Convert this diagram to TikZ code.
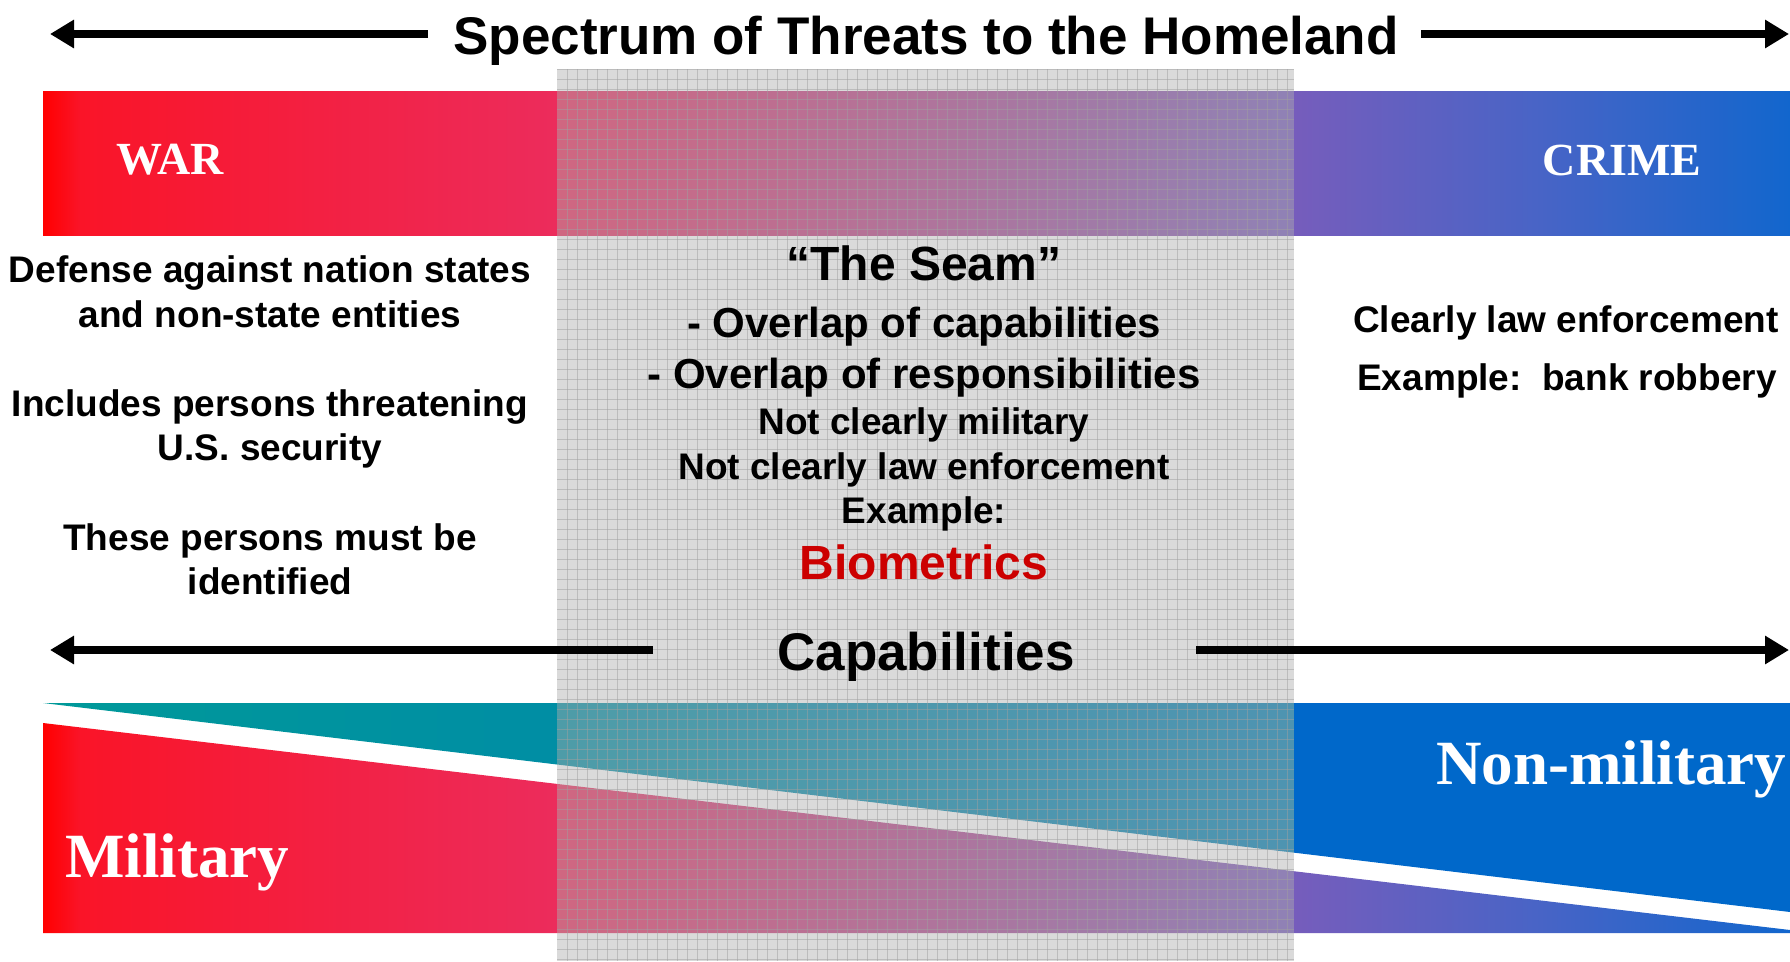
\documentclass[tikz,border=0pt]{standalone}
\usepackage{fontspec}
\setmainfont{Liberation Sans}
\newfontfamily\serifbf{Liberation Serif}
\usetikzlibrary{arrows.meta}
\definecolor{cR}{RGB}{255,0,0}
\definecolor{cR2}{RGB}{250,20,40}
\definecolor{cP}{RGB}{236,44,92}
\definecolor{cV}{RGB}{118,93,188}
\definecolor{cV2}{RGB}{72,100,198}
\definecolor{cB}{RGB}{18,102,205}
\definecolor{cT1}{RGB}{0,153,153}
\definecolor{cT2}{RGB}{0,126,180}
\definecolor{cNB}{RGB}{0,104,202}
\definecolor{seamgray}{RGB}{175,175,175}
\definecolor{gridgray}{RGB}{160,160,160}
\definecolor{bioRed}{RGB}{204,0,0}
\pgfdeclarehorizontalshading{spec}{100bp}{color(0bp)=(cR); color(25bp)=(cR); color(26.06bp)=(cR2); color(39.71bp)=(cP); color(60.8bp)=(cV); color(67.84bp)=(cV2); color(75bp)=(cB); color(100bp)=(cB)}
\tikzset{
  arr/.style={line width=8pt, draw=black, -{Triangle[length=24pt,width=27pt]}},
  base/.style={anchor=base, inner sep=0pt, outer sep=0pt},
  small/.style={base, font=\bfseries\fontsize{37}{44}\selectfont},
  mid/.style={base, font=\bfseries\fontsize{42}{50}\selectfont},
  large/.style={base, font=\bfseries\fontsize{48}{56}\selectfont},
  huge/.style={base, font=\bfseries\fontsize{53}{62}\selectfont},
  bartext/.style={anchor=center, inner sep=0pt, text=white, font=\serifbf\bfseries\fontsize{46}{50}\selectfont},
  lowtext/.style={anchor=base west, inner sep=0pt, text=white, font=\serifbf\bfseries\fontsize{63}{70}\selectfont},
  gridline/.style={draw=gridgray, line width=1pt, opacity=0.5}
}
\begin{document}
\begin{tikzpicture}[x=1pt,y=-1pt]
\useasboundingbox (0,0) rectangle (1790,961);
\fill[white] (0,0) rectangle (1790,961);
% top bar
\shade[shading=spec] (43,91) rectangle (1790,235);
% lower bottom shape (military -> non military gradient)
\shade[shading=spec] (43,723) -- (1790,930) -- (1790,933) -- (43,933) -- cycle;
% upper bottom shape
\begin{scope}
  \clip (43,703) -- (1790,703) -- (1790,912) -- cycle;
  \shade[left color=cT1, right color=cT2] (43,700) rectangle (1294,915);
  \fill[cNB] (1294,700) rectangle (1790,915);
\end{scope}
% the seam
\fill[seamgray, opacity=0.45] (557,69) rectangle (1294,961);
\begin{scope}
  \clip (557,69) rectangle (1294,961);
  \foreach \gx in {567,577,...,1294} \draw[gridline] (\gx,69) -- (\gx,961);
  \foreach \gy in {69,79,...,961} \draw[gridline] (557,\gy) -- (1294,\gy);
\end{scope}
% title and arrows
\node[huge] (title) at (926,54) {Spectrum of Threats to the Homeland};
\coordinate (tlA) at (428,34);
\coordinate (tlB) at (50,34);
\coordinate (trA) at (1421,34);
\coordinate (trB) at (1789,34);
\draw[arr] (tlA) -- (tlB);
\draw[arr] (trA) -- (trB);
% bar labels
\node[bartext] (war) at (170,160) {WAR};
\node[bartext] (crime) at (1622,160) {CRIME};
% left text
\node[small] (l1) at (270,282) {Defense against nation states};
\node[small] (l2) at (270,327) {and non-state entities};
\node[small] (l3) at (270,416) {Includes persons threatening};
\node[small] (l4) at (270,460) {U.S. security};
\node[small] (l5) at (270,550) {These persons must be};
\node[small] (l6) at (270,594) {identified};
% seam text
\node[large] (c1) at (924,280) {“The Seam”};
\node[mid] (c2) at (924,337) {- Overlap of capabilities};
\node[mid] (c3) at (924,388) {- Overlap of responsibilities};
\node[small] (c4) at (924,434) {Not clearly military};
\node[small] (c5) at (924,479) {Not clearly law enforcement};
\node[small] (c6) at (924,523) {Example:};
\node[large, text=bioRed] (c7) at (924,579) {Biometrics};
% right text
\node[small] (r1) at (1566,332) {Clearly law enforcement};
\node[small] (r2) at (1567,390) {Example:\ \ bank robbery};
% capabilities
\node[huge] (cap) at (926,670) {Capabilities};
\coordinate (mlA) at (653,650);
\coordinate (mlB) at (50,650);
\coordinate (mrA) at (1196,650);
\coordinate (mrB) at (1789,650);
\draw[arr] (mlA) -- (mlB);
\draw[arr] (mrA) -- (mrB);
% bottom labels
\node[lowtext] (mil) at (65,877) {Military};
\node[lowtext] (nonmil) at (1436,784) {Non-military};
\end{tikzpicture}
\end{document}
